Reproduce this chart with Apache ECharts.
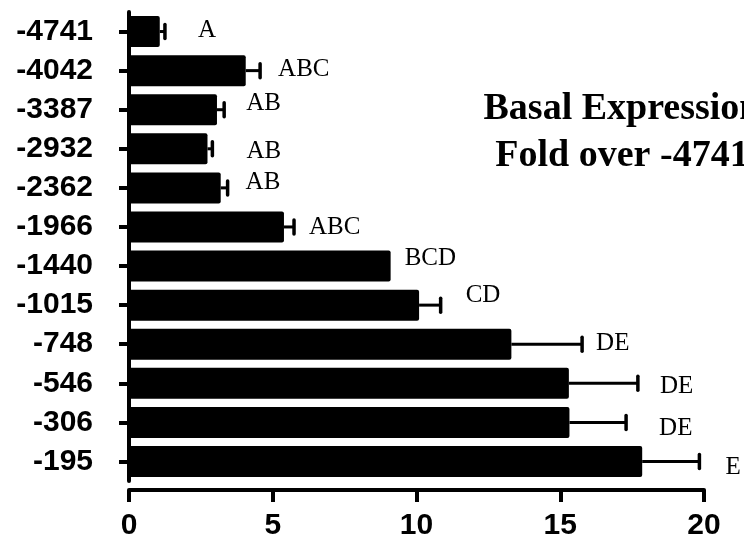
<!DOCTYPE html>
<html><head><meta charset="utf-8">
<script src="https://cdn.jsdelivr.net/npm/echarts@6/dist/echarts.min.js"></script>
<style>html,body{margin:0;padding:0;background:#fff}#c{width:744px;height:540px}</style>
</head><body><div id="c"></div>
<script>
// ---- data ----
const categories = ['-4741','-4042','-3387','-2932','-2362','-1966','-1440','-1015','-748','-546','-306','-195'];
const means  = [1.07, 4.06, 3.06, 2.73, 3.19, 5.39, 9.1, 10.09, 13.3, 15.3, 15.32, 17.85];
const errors = [0.18, 0.5, 0.25, 0.17, 0.24, 0.35, 0, 0.75, 2.46, 2.4, 1.97, 1.99];
const letters = ['A','ABC','AB','AB','AB','ABC','BCD','CD','DE','DE','DE','E'];
const xTicks = [0, 5, 10, 15, 20];
const titleLines = ['Basal Expression', 'Fold over -4741'];

// ---- layout: letter label nudges in px relative to error-bar end ----
const labelDx = [33, 18, 22, 34, 18, 15, 14, 25, 14, 22, 33, 26];
const labelDy = [-1, -1, -6, 3, -5, 0, -8, -10, -1, 3, 6, 6];

const chart = echarts.init(document.getElementById('c'), null, {renderer: 'canvas'});
const sansBold = {fontFamily: '"Liberation Sans", Arial, sans-serif', fontWeight: 'bold', fontSize: 30, color: '#000'};

const errData = categories.map((c, i) => [i, means[i], errors[i]]);

chart.setOption({
  animation: false,
  backgroundColor: '#fff',
  grid: {left: 129, right: 40, top: 12, bottom: 59, containLabel: false, outerBoundsMode: 'none'},
  xAxis: {
    type: 'value', min: xTicks[0], max: xTicks[xTicks.length - 1], interval: xTicks[1] - xTicks[0],
    offset: 9,
    axisLine: {show: true, lineStyle: {color: '#000', width: 4}},
    axisTick: {show: true, length: 12, lineStyle: {color: '#000', width: 4}},
    splitLine: {show: false},
    axisLabel: Object.assign({margin: 21}, sansBold)
  },
  yAxis: {
    type: 'category', data: categories, inverse: true,
    axisLine: {show: true, lineStyle: {color: '#000', width: 4}},
    axisTick: {show: true, alignWithLabel: true, length: 10, lineStyle: {color: '#000', width: 4}},
    splitLine: {show: false},
    axisLabel: Object.assign({margin: 36}, sansBold)
  },
  graphic: [{
    type: 'text', x: 622, y: 86, z: 10,
    style: {text: titleLines.join('\n'), font: 'bold 38px "Liberation Serif", "Times New Roman", serif',
            fill: '#000', align: 'center', verticalAlign: 'top', lineHeight: 47}
  }],
  series: [
    {
      type: 'bar', data: means, barWidth: 31,
      itemStyle: {color: '#000', borderRadius: 2},
      z: 3
    },
    {
      type: 'custom', data: errData, z: 2,
      encode: {x: [1, 2], y: 0},
      renderItem: function (params, api) {
        const i = params.dataIndex;
        const ci = api.value(0), m = api.value(1), e = api.value(2);
        const p0 = api.coord([m, ci]);
        const p1 = api.coord([m + e, ci]);
        const children = [];
        if (e > 0) {
          children.push({type: 'line', shape: {x1: p0[0], y1: p0[1], x2: p1[0], y2: p1[1]},
            style: {stroke: '#000', lineWidth: 3}});
          children.push({type: 'line', shape: {x1: p1[0], y1: p1[1] - 7, x2: p1[0], y2: p1[1] + 7},
            style: {stroke: '#000', lineWidth: 3.5, lineCap: 'round'}});
        }
        children.push({type: 'text', x: p1[0] + labelDx[i], y: p1[1] + labelDy[i],
          style: {text: letters[i], font: '25px "Liberation Serif", "Times New Roman", serif',
                  fill: '#000', align: 'left', verticalAlign: 'middle'}});
        return {type: 'group', children: children};
      }
    }
  ]
});
</script>
</body></html>
